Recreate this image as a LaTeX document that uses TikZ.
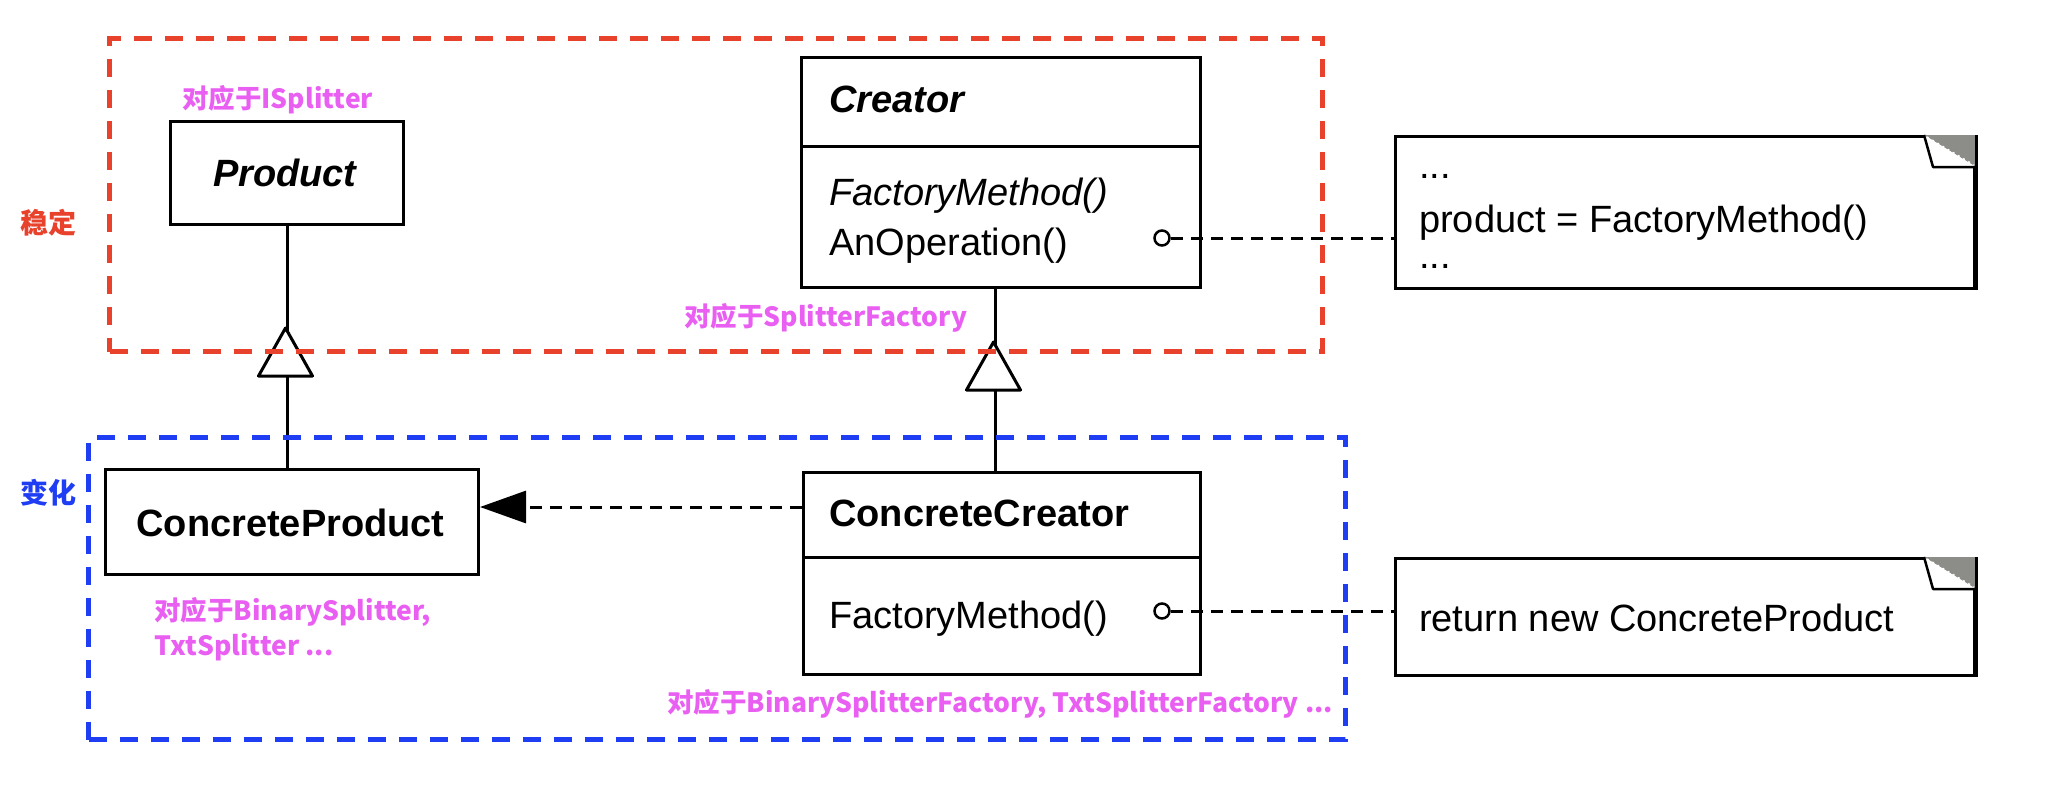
\documentclass[tikz,border=0pt]{standalone}
\usepackage{fontspec}
\setmainfont{Liberation Sans}
\newfontfamily\cjk{Noto Sans CJK SC}
\usetikzlibrary{arrows.meta,calc}
\definecolor{redd}{HTML}{E8412C}
\definecolor{blued}{HTML}{1F3DF2}
\definecolor{magen}{HTML}{E95FF2}
\definecolor{foldgray}{HTML}{8C8C88}
\begin{document}
\begin{tikzpicture}[x=1pt,y=-1pt,
  box/.style={draw, line width=3pt, fill=white, inner sep=0pt, anchor=north west},
  uml/.style={font=\fontsize{38}{46}\selectfont, inner sep=0pt},
  conn/.style={line width=3pt},
  dconn/.style={line width=3pt, dash pattern=on 12pt off 8pt},
  grp/.style={line width=5pt, dash pattern=on 18pt off 13pt, inner sep=0pt, anchor=north west},
  lbl/.style={font=\cjk\bfseries\fontsize{26.5}{33}\selectfont, text=magen, inner sep=0pt, anchor=base west},
  knob/.style={circle, draw, line width=2.5pt, fill=white, minimum size=15pt, inner sep=0pt},
  inh/.style={line width=3pt, fill=white, line join=round}]
\useasboundingbox (0,0) rectangle (2072,796);

% boxes
\node[box, minimum width=233pt, minimum height=103pt] (product) at (169,120) {};
\node[box, minimum width=399pt, minimum height=230pt] (creator) at (800,56) {};
\node[box, minimum width=373pt, minimum height=105pt] (cproduct) at (104,468) {};
\node[box, minimum width=397pt, minimum height=202pt] (ccreator) at (802,471) {};
\node[box, minimum width=579pt, minimum height=152pt] (note1) at (1394,135) {};
\node[box, minimum width=579pt, minimum height=117pt] (note2) at (1394,557) {};

% dividers
\draw[conn] (creator.west |- 0,146) -- (creator.east |- 0,146);
\draw[conn] (ccreator.west |- 0,557) -- (ccreator.east |- 0,557);

% dog-ears
\foreach \n in {note1,note2}{
  \fill[foldgray] ($(\n.north east)+(-52,0)$) -- (\n.north east) -- ($(\n.north east)+(0,32)$) -- cycle;
  \filldraw[fill=white, line width=2.5pt, line join=round] ($(\n.north east)+(-52,0)$) -- ($(\n.north east)+(-43,32)$) -- ($(\n.north east)+(0,32)$);
  \draw[white, line width=1.5pt, dash pattern=on 2pt off 4pt] ($(\n.north east)+(-49,2)$) -- ($(\n.north east)+(-2,30)$);
  \draw[line width=3pt] (\n.north east) -- (\n.south east);
}

% texts
\node[uml, anchor=base] (tprod) at (285.5,186) {\textbf{\textit{Product}}};
\node[uml, anchor=base west] (tcre) at (829,112) {\textbf{\textit{Creator}}};
\node[uml, anchor=base west] (tfm1) at (829,205) {\textit{FactoryMethod()}};
\node[uml, anchor=base west] (tanop) at (829,255) {AnOperation()};
\node[uml, anchor=base] (tcprod) at (290.5,536) {\textbf{ConcreteProduct}};
\node[uml, anchor=base west] (tccre) at (829,526) {\textbf{ConcreteCreator}};
\node[uml, anchor=base west] (tfm2) at (829,628) {FactoryMethod()};
\node[uml, anchor=base west] (tn1a) at (1419,178) {...};
\node[uml, anchor=base west] (tn1b) at (1419,232) {product = FactoryMethod()};
\node[uml, anchor=base west] (tn1c) at (1419,268) {...};
\node[uml, anchor=base west] (tn2) at (1419,631) {return new ConcreteProduct};

% inheritance connectors
\draw[conn] (product.south) -- (product.south |- cproduct.north);
\coordinate (cs) at ($(creator.south)+(-6,0)$);
\draw[conn] (cs) -- (cs |- ccreator.north);
\coordinate (tri1) at (285.5,328);
\coordinate (tri2) at (993.5,342);
\draw[inh] (tri1) -- ++(27,48) -- ++(-54,0) -- cycle;
\draw[inh] (tri2) -- ++(27,48) -- ++(-54,0) -- cycle;

% instantiation arrow
\coordinate (arrS) at (802,507);
\draw[dconn, -{Triangle[length=46pt, width=32pt]}] (arrS) -- (arrS -| cproduct.east);

% note connectors
\node[knob] (k1) at (1162,238) {};
\node[knob] (k2) at (1162,611) {};
\draw[dconn] (k1.east) -- (k1 -| note1.west);
\draw[dconn] (k2.east) -- (k2 -| note2.west);

% groups
\node[grp, draw=redd, minimum width=1213pt, minimum height=313pt] (stable) at (107,36) {};
\node[grp, draw=blued, minimum width=1257pt, minimum height=302pt] (vary) at (86,435) {};

% labels
\node[lbl, text=redd, font=\cjk\bfseries\fontsize{28}{34}\selectfont] (lstable) at (20,233) {稳定};
\node[lbl, text=blued, font=\cjk\bfseries\fontsize{28}{34}\selectfont] (lvary) at (20,503) {变化};
\node[lbl] (l1) at (182,108) {对应于ISplitter};
\node[lbl] (l2) at (684,326) {对应于SplitterFactory};
\node[lbl] (l3) at (154,620) {对应于BinarySplitter,};
\node[lbl] (l4) at (154,655) {TxtSplitter ...};
\node[lbl] (l5) at (667,712) {对应于BinarySplitterFactory, TxtSplitterFactory ...};
\end{tikzpicture}
\end{document}
